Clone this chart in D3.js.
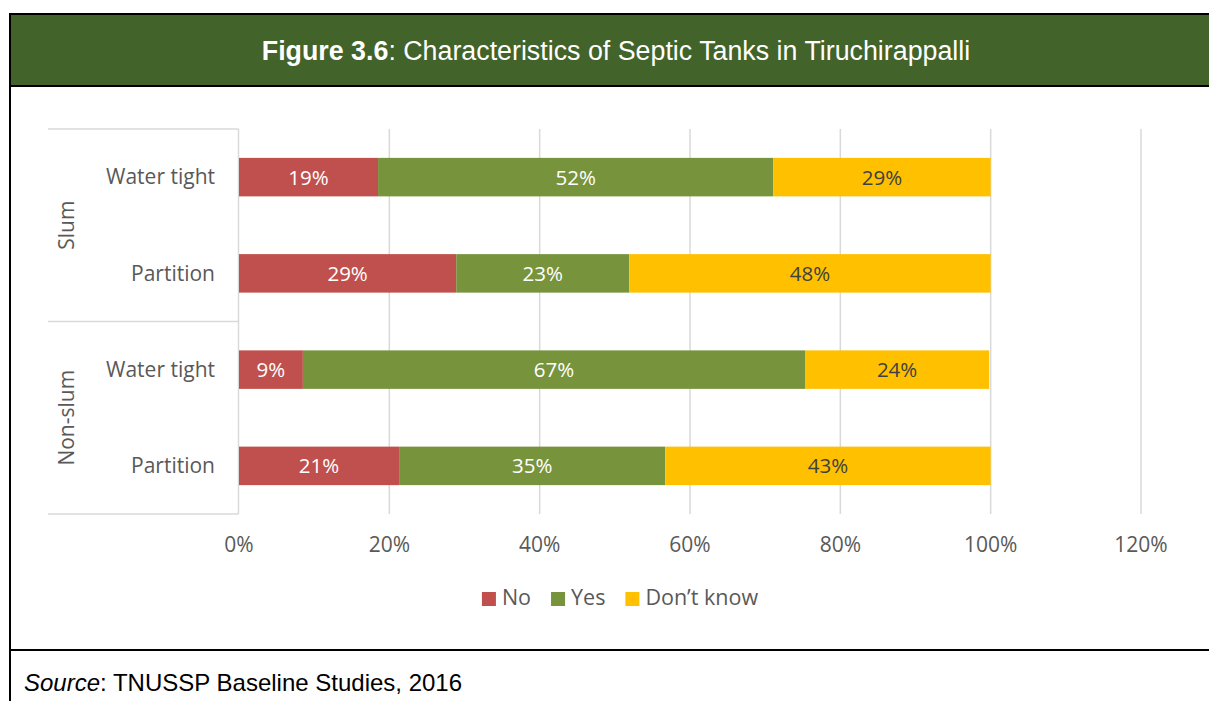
<!DOCTYPE html>
<html><head><meta charset="utf-8">
<script src="https://cdn.jsdelivr.net/npm/d3@7"></script>
<style>body{margin:0;background:#fff}svg{display:block}</style>
</head><body>
<script>
const groups = ["Slum", "Non-slum"];
const categories = ["Water tight", "Partition"];
const seriesNames = ["No", "Yes", "Don\u2019t know"];
const noValues = [18.5, 28.9, 8.5, 21.3];
const yesValues = [52.6, 23.0, 66.8, 35.4];
const dkValues = [28.9, 48.1, 24.5, 43.3];
const noLabels = ["19%", "29%", "9%", "21%"];
const yesLabels = ["52%", "23%", "67%", "35%"];
const dkLabels = ["29%", "48%", "24%", "43%"];
const tickValues = [0, 20, 40, 60, 80, 100, 120];
const colors = ["#c0504d", "#77933c", "#ffc000"];

const W = 1209, H = 701;
const svg = d3.select("body").append("svg").attr("width", W).attr("height", H);

// frame
svg.append("rect").attr("x", 10).attr("y", 14).attr("width", W + 10).attr("height", 72).attr("fill", "#426329");
svg.append("line").attr("x1", 10).attr("x2", W).attr("y1", 14).attr("y2", 14).attr("stroke", "#000").attr("stroke-width", 2);
svg.append("line").attr("x1", 10).attr("x2", W).attr("y1", 86).attr("y2", 86).attr("stroke", "#000").attr("stroke-width", 2);
svg.append("line").attr("x1", 10).attr("x2", W).attr("y1", 650).attr("y2", 650).attr("stroke", "#000").attr("stroke-width", 2);
svg.append("line").attr("x1", 10).attr("x2", 10).attr("y1", 13).attr("y2", H).attr("stroke", "#000").attr("stroke-width", 2);

const title = svg.append("text").attr("x", 616).attr("y", 60).attr("text-anchor", "middle")
  .attr("fill", "#fff").attr("font-family", "Liberation Sans, Arial, sans-serif").attr("font-size", 26.8);
title.append("tspan").attr("font-weight", "bold").text("Figure 3.6");
title.append("tspan").text(": Characteristics of Septic Tanks in Tiruchirappalli");

const src = svg.append("text").attr("x", 24).attr("y", 691)
  .attr("fill", "#000").attr("font-family", "Liberation Sans, Arial, sans-serif").attr("font-size", 24);
src.append("tspan").attr("font-style", "italic").text("Source");
src.append("tspan").text(": TNUSSP Baseline Studies, 2016");

// chart
const font = "'Open Sans', sans-serif";
const x = d3.scaleLinear().domain([0, 120]).range([239, 1141]);
const rows = [];
groups.forEach(g => categories.forEach(c => rows.push(g + "|" + c)));
const y = d3.scaleBand().domain(rows).range([129, 514]).paddingInner(0.6).paddingOuter(0.3);

// gridlines
svg.append("g").selectAll("line").data(tickValues.slice(1)).join("line")
  .attr("x1", d => x(d)).attr("x2", d => x(d)).attr("y1", 129).attr("y2", 514)
  .attr("stroke", "#d9d9d9").attr("stroke-width", 1.5);

// category axis lines
const ax = svg.append("g").attr("stroke", "#d9d9d9").attr("stroke-width", 1.5);
ax.append("line").attr("x1", 238.5).attr("x2", 238.5).attr("y1", 129).attr("y2", 514);
[129, 321.5, 514].forEach(yy => ax.append("line").attr("x1", 48).attr("x2", 238.5).attr("y1", yy).attr("y2", yy));

// stacked bars
const data = rows.map((r, i) => ({row: r, No: noValues[i], Yes: yesValues[i], DK: dkValues[i]}));
const stack = d3.stack().keys(["No", "Yes", "DK"])(data);
const labelSets = [noLabels, yesLabels, dkLabels];
const textColors = ["#fff", "#fff", "#404040"];
stack.forEach((s, si) => {
  const g = svg.append("g");
  g.selectAll("rect").data(s).join("rect")
    .attr("x", d => x(d[0])).attr("width", d => x(d[1]) - x(d[0]))
    .attr("y", d => y(d.data.row)).attr("height", y.bandwidth())
    .attr("fill", colors[si]);
  g.selectAll("text").data(s).join("text")
    .attr("x", d => (x(d[0]) + x(d[1])) / 2).attr("y", d => y(d.data.row) + y.bandwidth() / 2)
    .attr("dy", "0.36em").attr("text-anchor", "middle")
    .attr("fill", textColors[si]).attr("font-family", font).attr("font-size", 20.5)
    .text((d, i) => labelSets[si][i]);
});

// category labels
svg.append("g").selectAll("text").data(rows).join("text")
  .attr("x", 215).attr("y", d => y(d) + y.bandwidth() / 2).attr("dy", "0.35em")
  .attr("text-anchor", "end").attr("fill", "#595959").attr("font-family", font).attr("font-size", 21)
  .text(d => d.split("|")[1]);

// group labels
groups.forEach((g, gi) => {
  const y0 = y(g + "|" + categories[0]), y1 = y(g + "|" + categories[1]) + y.bandwidth();
  const cy = (y0 + y1) / 2;
  svg.append("text").attr("transform", `translate(74,${cy}) rotate(-90)`)
    .attr("text-anchor", "middle").attr("fill", "#595959").attr("font-family", font).attr("font-size", 21)
    .text(g);
});

// x axis tick labels
svg.append("g").selectAll("text").data(tickValues).join("text")
  .attr("x", d => x(d)).attr("y", 552).attr("text-anchor", "middle")
  .attr("fill", "#595959").attr("font-family", font).attr("font-size", 21)
  .text(d => d + "%");

// legend
const leg = svg.append("g");
let cx = 0;
seriesNames.forEach((n, i) => {
  const gi = leg.append("g");
  gi.append("rect").attr("x", 0).attr("y", -13).attr("width", 14).attr("height", 14).attr("fill", colors[i]);
  const t = gi.append("text").attr("x", 20).attr("y", 0).attr("fill", "#595959")
    .attr("font-family", font).attr("font-size", 21.5).text(n);
  gi.attr("transform", `translate(${cx},0)`);
  cx += 20 + t.node().getComputedTextLength() + 20;
});
const total = cx - 20;
leg.attr("transform", `translate(${620 - total / 2},605)`);
</script>
</body></html>
